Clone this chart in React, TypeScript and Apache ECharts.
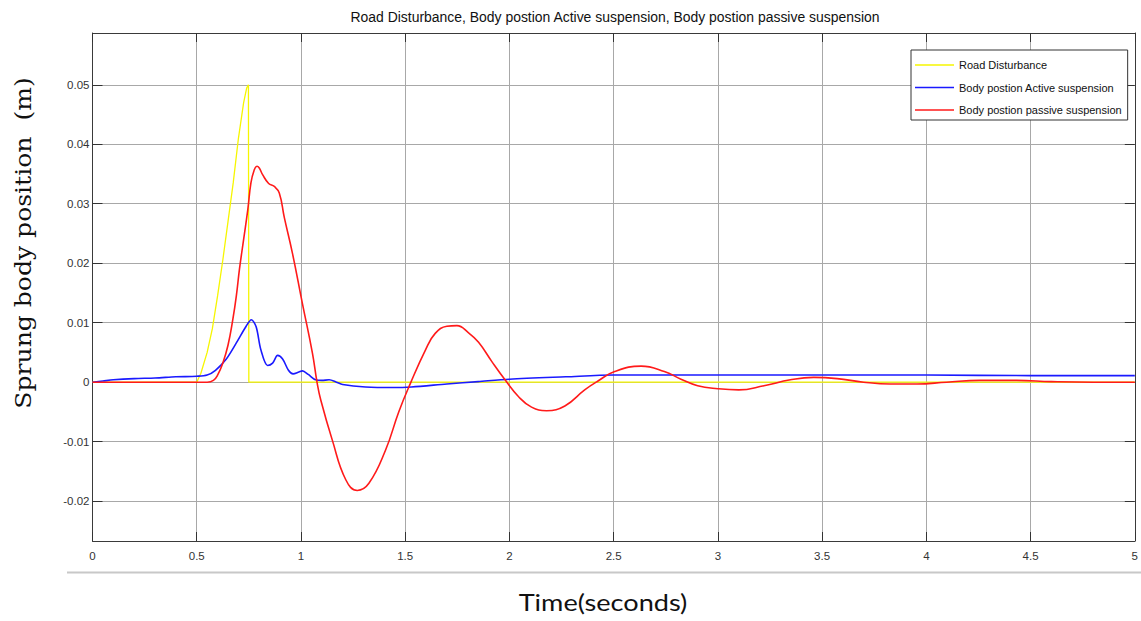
import React, { useEffect, useRef } from "react";
import * as echarts from "echarts";

const titleText = "Road Disturbance, Body postion Active suspension, Body postion passive suspension";
const seriesNames = ["Road Disturbance", "Body postion Active suspension", "Body postion passive suspension"];
const xAxisTitle = "Time(seconds)";
const yAxisTitle = "Sprung body position  (m)";

const yTickValues = [-0.02, -0.01, 0, 0.01, 0.02, 0.03, 0.04, 0.05];

const roadDisturbance: [number, number][] = [
  [0, 0], [0.5, 0], [0.52, 0.0015], [0.55, 0.005], [0.575, 0.009], [0.6, 0.0145],
  [0.625, 0.0205], [0.65, 0.027], [0.675, 0.0335], [0.7, 0.041], [0.725, 0.047],
  [0.74, 0.0495], [0.748, 0.05], [0.75, 0.05], [0.75, 0], [5, 0],
];

const activeBody: [number, number][] = [
  [0, 0], [0.05, 0.0002], [0.1, 0.0004], [0.2, 0.0006], [0.3, 0.0007], [0.4, 0.0009],
  [0.5, 0.001], [0.55, 0.0012], [0.59, 0.002], [0.64, 0.0038], [0.69, 0.0066],
  [0.737, 0.0094], [0.762, 0.0105], [0.785, 0.0093], [0.808, 0.0054], [0.84, 0.0028],
  [0.864, 0.0032], [0.888, 0.0045], [0.912, 0.0039], [0.94, 0.002], [0.962, 0.0014],
  [0.99, 0.0017], [1.007, 0.0019], [1.035, 0.0013], [1.07, 0.0004], [1.1, 0.0003],
  [1.135, 0.0004], [1.17, 0.0], [1.2, -0.0004], [1.31, -0.0008], [1.44, -0.0009],
  [1.53, -0.0008], [1.7, -0.0003], [1.85, 0.0001], [2.0, 0.0005], [2.27, 0.0009],
  [2.5, 0.0012], [2.9, 0.0012], [3.4, 0.0012], [4, 0.0012], [4.5, 0.0011], [5, 0.0011],
];

const passiveBody: [number, number][] = [
  [0, 0], [0.55, 0], [0.58, 0.0003], [0.6, 0.0012], [0.625, 0.0032], [0.65, 0.0062],
  [0.673, 0.0105], [0.69, 0.0145], [0.705, 0.019], [0.725, 0.024], [0.745, 0.029],
  [0.76, 0.0335], [0.775, 0.0356], [0.789, 0.0363], [0.8, 0.036], [0.816, 0.0349],
  [0.845, 0.0334], [0.872, 0.0329], [0.896, 0.0318], [0.92, 0.0277], [0.959, 0.0217],
  [1.007, 0.0132], [1.055, 0.0049], [1.077, 0], [1.095, -0.003], [1.15, -0.0097],
  [1.215, -0.0164], [1.27, -0.0182], [1.326, -0.017], [1.406, -0.0114], [1.469, -0.005],
  [1.525, -0.0002], [1.597, 0.0054], [1.644, 0.0082], [1.7, 0.0094], [1.748, 0.0095],
  [1.804, 0.0083], [1.852, 0.0067], [1.915, 0.0035], [1.979, 0.0004], [2.043, -0.0024],
  [2.106, -0.0042], [2.178, -0.0048], [2.266, -0.004], [2.361, -0.0013], [2.425, 0.0002],
  [2.505, 0.0018], [2.632, 0.0027], [2.743, 0.0018], [2.823, 0.0005], [2.903, -0.0006],
  [3.0, -0.0011], [3.1, -0.0013], [3.221, -0.0006], [3.348, 0.0004], [3.46, 0.0008],
  [3.572, 0.0006], [3.699, 0.0], [3.826, -0.0003], [3.954, -0.0003], [4.097, 0],
  [4.256, 0.0003], [4.432, 0.0003], [4.6, 0.0001], [4.8, 0], [5, 0],
];

const SANS = "'Liberation Sans Narrow', 'Arial Narrow', 'Liberation Sans', sans-serif";

export default function App() {
  const ref = useRef<HTMLDivElement>(null);
  useEffect(() => {
    if (!ref.current) return;
    const chart = echarts.init(ref.current, undefined, { renderer: "svg" });
    const axisLineStyle = { color: "#3a3a3a", width: 1 };
    const gridColor = "#a8a8a8";
    chart.setOption({
      animation: false,
      backgroundColor: "#ffffff",
      grid: { left: 92.5, right: 2, top: 33, bottom: 80, containLabel: false },
      legend: {
        data: seriesNames,
        orient: "vertical",
        left: 911,
        top: 50,
        icon: "rect",
        itemWidth: 39,
        itemHeight: 1.6,
        itemGap: 6.5,
        padding: [7, 6, 2, 4],
        backgroundColor: "#ffffff",
        borderColor: "#333333",
        borderWidth: 1,
        borderRadius: 0,
        textStyle: { fontFamily: SANS, fontSize: 11, color: "#111", lineHeight: 16 },
      },
      xAxis: [
        {
          type: "value",
          min: 0,
          max: 5,
          interval: 0.5,
          axisLine: { show: true, onZero: false, lineStyle: axisLineStyle },
          axisTick: { show: true, inside: true, length: 9, lineStyle: { color: "#333" } },
          axisLabel: { fontFamily: SANS, fontSize: 11.5, color: "#333", margin: 9 },
          splitLine: { show: true, lineStyle: { color: gridColor, width: 1 } },
        },
        {
          type: "value",
          position: "top",
          min: 0,
          max: 5,
          interval: 0.5,
          axisLine: { show: true, onZero: false, lineStyle: axisLineStyle },
          axisTick: { show: true, inside: true, length: 9, lineStyle: { color: "#333" } },
          axisLabel: { show: false },
          splitLine: { show: false },
        },
      ],
      yAxis: [
        {
          type: "value",
          min: -0.0267,
          max: 0.0587,
          axisLine: { show: true, onZero: false, lineStyle: axisLineStyle },
          axisTick: { show: true, inside: true, length: 10, customValues: yTickValues, lineStyle: { color: "#333" } },
          axisLabel: {
            customValues: yTickValues,
            fontFamily: SANS,
            fontSize: 11.5,
            color: "#333",
            margin: 3,
            formatter: (v: number) => (Math.abs(v) < 1e-9 ? "0" : String(Math.round(v * 100) / 100)),
          },
          splitLine: { show: true, lineStyle: { color: gridColor, width: 1 } },
        },
        {
          type: "value",
          position: "right",
          min: -0.0267,
          max: 0.0587,
          axisLine: { show: true, onZero: false, lineStyle: axisLineStyle },
          axisTick: { show: true, inside: true, length: 10, customValues: yTickValues, lineStyle: { color: "#333" } },
          axisLabel: { show: false, customValues: yTickValues },
          splitLine: { show: false },
        },
      ],
      series: [
        {
          name: seriesNames[0],
          type: "line",
          data: roadDisturbance,
          symbol: "none",
          color: "#f6f600",
          lineStyle: { color: "#f6f600", width: 1.3 },
          z: 3,
        },
        {
          name: seriesNames[1],
          type: "line",
          data: activeBody,
          symbol: "none",
          smooth: 0.3,
          color: "#1a1aff",
          lineStyle: { color: "#1a1aff", width: 1.6 },
          z: 4,
        },
        {
          name: seriesNames[2],
          type: "line",
          data: passiveBody,
          symbol: "none",
          smooth: 0.45,
          color: "#ff1a1a",
          lineStyle: { color: "#ff1a1a", width: 1.6 },
          z: 5,
        },
      ],
      graphic: [
        {
          type: "text",
          x: 615,
          y: 17,
          scaleX: 0.93,
          style: {
            text: titleText,
            fontFamily: SANS,
            fontSize: 15,
            fill: "#111",
            textAlign: "center",
            textVerticalAlign: "middle",
          },
        },
        {
          type: "line",
          shape: { x1: 67, y1: 572.5, x2: 1141, y2: 572.5 },
          style: { stroke: "#c8c8c8", lineWidth: 2 },
        },
        {
          type: "text",
          x: 24,
          y: 243,
          rotation: Math.PI / 2,
          scaleX: 1.14,
          style: {
            text: yAxisTitle,
            fontFamily: "'DejaVu Serif', 'Liberation Serif', serif",
            fontSize: 22,
            fill: "#111",
            textAlign: "center",
            textVerticalAlign: "middle",
          },
        },
        {
          type: "text",
          x: 603,
          y: 602,
          scaleX: 1.18,
          style: {
            text: xAxisTitle,
            fontFamily: "Lato, 'Open Sans', sans-serif",
            fontSize: 23,
            fill: "#111",
            textAlign: "center",
            textVerticalAlign: "middle",
          },
        },
      ],
    });
    return () => chart.dispose();
  }, []);
  return <div ref={ref} style={{ width: 1141, height: 621, position: "absolute", left: 0, top: 0 }} />;
}
